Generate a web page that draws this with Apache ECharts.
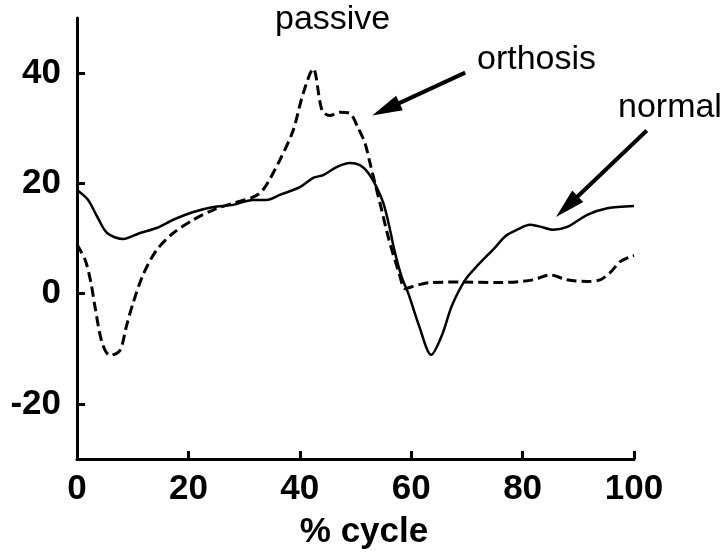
<!DOCTYPE html>
<html>
<head>
<meta charset="utf-8">
<script src="https://cdn.jsdelivr.net/npm/echarts@6/dist/echarts.min.js"></script>
<style>
  html, body { margin: 0; padding: 0; background: #fff; }
  #main { width: 724px; height: 556px; }
</style>
</head>
<body>
<div id="main"></div>
<script>
// % cycle vs angle
var normal = [
  [0, 18.8], [2, 17], [3.6, 14], [5.4, 11], [8.3, 9.9], [11.3, 11], [14.3, 11.9],
  [17.3, 13.4], [20.9, 14.8], [24.5, 15.7], [28, 16.1], [31.6, 17], [34, 17],
  [36.4, 17.9], [40, 19.3], [42.4, 21], [44.2, 21.5], [46.7, 23], [49, 23.7],
  [50.8, 23.3], [52.2, 22], [53.8, 19.3], [55, 16.4], [56, 12.5], [57, 7.8],
  [58.3, 3], [59.5, 0], [61.4, -5.8], [63.6, -11.1], [65.5, -7.6], [67.3, -2.2],
  [69.7, 2.5], [72, 5.2], [75, 8.3], [77, 10.5], [79, 11.6], [81.3, 12.5],
  [83, 12.2], [85.5, 11.6], [88, 12.1], [91.6, 14.3], [95.2, 15.5], [100, 15.9]
];
var orthosis = [
  [0, 8.9], [1.5, 6], [2.5, 2], [3.2, -2.2], [4.5, -8.9], [5.9, -11.2], [7.7, -10.3],
  [8.9, -5.8], [10.1, -1.6], [11.9, 3.5], [14.3, 7.9], [17.3, 11], [20.9, 13.4],
  [24.5, 15.2], [28, 16.4], [31.6, 17.5], [33.4, 18.8], [36.4, 24.2], [38.8, 29.6],
  [40.6, 36.3], [42.4, 40.8], [44, 33.2], [45.4, 32.3], [47.2, 32.9], [49, 32.7],
  [50.4, 30.2], [51.7, 27.3], [52.6, 23.7], [53.5, 20], [54.4, 16.4], [56, 9.8],
  [57.8, 3.8], [58.9, 0.9], [60, 1.2], [63.2, 2], [69.1, 2.1], [75.9, 2],
  [81.9, 2.5], [84.9, 3.4], [88, 2.5], [91.6, 2.2], [93.9, 2.5], [95.7, 3.8],
  [97.5, 5.8], [99.3, 6.7], [100, 6.9]
];
var xTicks = [0, 20, 40, 60, 80, 100];
var yTicks = [-20, 0, 20, 40];

// annotation text and arrows (data coords: arrow from -> tip)
var notes = [
  { text: 'passive', x: 275, y: 20 },
  { text: 'orthosis', x: 477, y: 60 },
  { text: 'normal', x: 618, y: 108 }
];
var arrows = [
  { from: [69.7, 40.1], to: [53, 32.3] },
  { from: [102.3, 29.6], to: [86, 13.9] }
];

var font = '"Liberation Sans", Arial, sans-serif';
var chart = echarts.init(document.getElementById('main'), null, { renderer: 'canvas' });

var option = {
  animation: false,
  backgroundColor: '#fff',
  grid: { left: 77, right: 90, top: 18, bottom: 97 },
  xAxis: {
    type: 'value',
    min: 0,
    max: 100,
    interval: 20,
    name: '% cycle',
    nameLocation: 'middle',
    nameGap: 56,
    nameTextStyle: {
      fontFamily: font, fontWeight: 'bold', fontSize: 35, color: '#000',
      padding: [0, 0, 0, 17]
    },
    axisLine: { show: true, onZero: false, lineStyle: { color: '#000', width: 3 } },
    axisTick: { show: true, inside: true, length: 8, lineStyle: { color: '#000', width: 3 } },
    axisLabel: {
      fontFamily: font, fontWeight: 'bold', fontSize: 35, color: '#000', margin: 13,
      customValues: xTicks
    },
    splitLine: { show: false }
  },
  yAxis: {
    type: 'value',
    min: -30,
    max: 50,
    axisLine: { show: true, onZero: false, lineStyle: { color: '#000', width: 3 } },
    axisTick: {
      show: true, inside: true, length: 8, lineStyle: { color: '#000', width: 3 },
      customValues: yTicks
    },
    axisLabel: {
      fontFamily: font, fontWeight: 'bold', fontSize: 35, color: '#000', margin: 16,
      customValues: yTicks
    },
    splitLine: { show: false }
  },
  series: [
    {
      name: 'normal',
      type: 'line',
      data: normal,
      smooth: 0.3,
      showSymbol: false,
      lineStyle: { color: '#000', width: 2.5 }
    },
    {
      name: 'orthosis',
      type: 'line',
      data: orthosis,
      smooth: 0.3,
      showSymbol: false,
      lineStyle: { color: '#000', width: 3, type: [10, 5] }
    }
  ]
};
chart.setOption(option);

// labels and arrows drawn on top
var elements = [];
notes.forEach(function (n) {
  elements.push({
    type: 'text',
    x: n.x,
    y: n.y,
    style: {
      text: n.text, fill: '#000', font: '34px ' + font,
      align: 'left', verticalAlign: 'middle'
    }
  });
});
arrows.forEach(function (a) {
  var p0 = chart.convertToPixel({ gridIndex: 0 }, a.from);
  var p1 = chart.convertToPixel({ gridIndex: 0 }, a.to);
  var dx = p1[0] - p0[0], dy = p1[1] - p0[1];
  var len = Math.sqrt(dx * dx + dy * dy);
  var ux = dx / len, uy = dy / len;
  var headLen = 30, headW = 8;
  var bx = p1[0] - ux * headLen, by = p1[1] - uy * headLen;
  elements.push({
    type: 'line',
    shape: { x1: p0[0], y1: p0[1], x2: bx + ux * 2, y2: by + uy * 2 },
    style: { stroke: '#000', lineWidth: 4 }
  });
  elements.push({
    type: 'polygon',
    shape: {
      points: [
        [p1[0], p1[1]],
        [bx - uy * headW, by + ux * headW],
        [bx + uy * headW, by - ux * headW]
      ]
    },
    style: { fill: '#000' }
  });
});
chart.setOption({ graphic: elements });
</script>
</body>
</html>
